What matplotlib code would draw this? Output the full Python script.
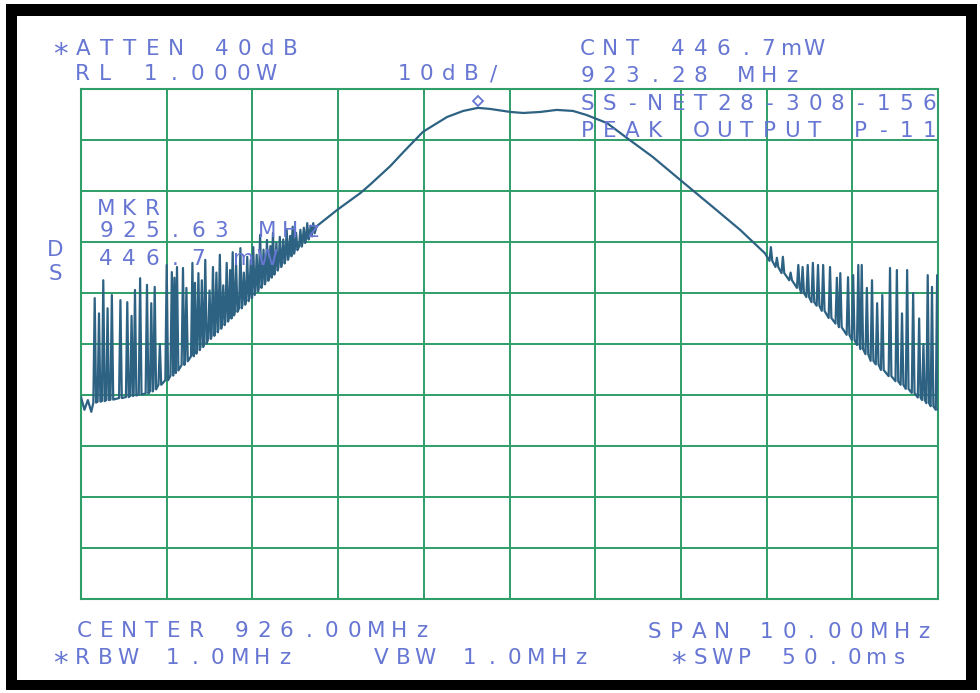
import numpy as np
import matplotlib

matplotlib.use("Agg")
import matplotlib.pyplot as plt
from matplotlib.patches import Rectangle
from matplotlib.transforms import ScaledTranslation

W, H = 980, 693

# ---- trace data (MHz / dBm): 10 dB/div, RL 1 W = 30 dBm ----
start_mhz = [921.00, 921.04, 921.08, 921.12]
start_dbm = [-30.4, -32.9, -31.0, -33.3]

# noise spikes on the lower skirt: position, top, floor under the spike
left_spike_mhz = [921.16, 921.21, 921.26, 921.31, 921.36, 921.46, 921.54, 921.59,
                  921.63, 921.69, 921.77, 921.82, 921.86, 921.92, 922.00, 922.06,
                  922.09, 922.12, 922.19, 922.23, 922.30, 922.33, 922.37, 922.41,
                  922.45, 922.50, 922.54, 922.58, 922.62, 922.66, 922.70, 922.74,
                  922.77, 922.81, 922.86, 922.90, 922.94, 922.98, 923.01, 923.05,
                  923.09, 923.13, 923.17, 923.21, 923.24, 923.28, 923.32, 923.36,
                  923.40, 923.44, 923.47, 923.51, 923.56, 923.60, 923.64, 923.68,
                  923.71]
left_spike_top = [-11.0, -14.0, -7.5, -13.0, -10.4, -11.4, -11.8, -14.5,
                  -9.4, -7.1, -8.4, -12.0, -8.8, -20.0, -4.5, -5.9,
                  -7.0, -4.9, -5.1, -9.0, -4.1, -8.0, -6.1, -7.5,
                  -3.5, -9.5, -4.9, -6.0, -2.5, -8.5, -4.1, -5.5,
                  -2.0, -4.5, -1.2, -6.0, -2.9, -3.5, -1.0, -2.5,
                  1.4, -1.5, 0.4, -0.8, 1.8, -0.2, 1.0, 0.5,
                  2.4, 1.2, 3.0, 1.8, 2.4, 2.8, 3.7, 3.2,
                  3.7]
left_spike_floor = [-31.5, -31.3, -31.2, -31.0, -30.9, -30.6, -30.4, -30.2,
                    -30.1, -29.9, -29.7, -29.3, -28.9, -28.0, -27.1, -26.2,
                    -25.7, -25.2, -24.1, -23.4, -22.4, -21.9, -21.2, -20.6,
                    -19.9, -19.0, -18.4, -17.7, -17.0, -16.3, -15.6, -15.0,
                    -14.4, -13.7, -13.0, -12.3, -11.6, -11.0, -10.4, -9.7,
                    -9.0, -8.3, -7.6, -7.0, -6.4, -5.6, -4.9, -4.2,
                    -3.5, -2.8, -2.3, -1.6, -0.9, -0.2, 0.5, 1.1,
                    1.7]

# passband of the filter
band_mhz = [923.75, 923.99, 924.26, 924.37, 924.61, 924.76, 924.99, 925.27,
            925.46, 925.63, 925.77, 926.01, 926.16, 926.36, 926.55, 926.74,
            926.90, 927.14, 927.37, 927.67, 927.99, 928.37, 928.69, 928.98]
band_dbm = [3.1, 6.3, 9.6, 11.2, 14.9, 17.6, 21.6, 24.5,
            25.7, 26.3, 26.1, 25.5, 25.3, 25.5, 25.9, 25.7,
            24.9, 23.3, 20.4, 16.7, 12.2, 6.9, 2.4, -2.2]

right_spike_mhz = [929.05, 929.12, 929.19, 929.28, 929.37, 929.42, 929.48, 929.54,
                   929.60, 929.66, 929.74, 929.82, 929.86, 929.95, 930.01, 930.07,
                   930.11, 930.17, 930.23, 930.29, 930.35, 930.44, 930.52, 930.58,
                   930.64, 930.71, 930.78, 930.83, 930.88, 930.93, 930.99]
right_spike_top = [-1.0, -3.1, -2.9, -6.0, -4.5, -4.9, -4.5, -4.1,
                   -4.5, -4.5, -4.9, -7.0, -6.1, -6.9, -6.5, -4.5,
                   -4.5, -9.0, -7.5, -12.0, -10.4, -5.1, -5.5, -14.0,
                   -5.5, -10.0, -15.0, -20.0, -6.5, -8.8, -6.5]
right_spike_floor = [-3.7, -4.9, -6.1, -7.5, -9.0, -10.0, -10.8, -11.8,
                     -12.5, -13.5, -14.9, -16.0, -16.7, -18.2, -19.2, -20.2,
                     -21.0, -22.0, -23.3, -24.0, -25.1, -26.3, -27.3, -28.0,
                     -28.8, -29.6, -30.5, -31.0, -31.6, -32.2, -32.9]
end_mhz = [931.00]
end_dbm = [-32.9]

marker_mhz = 925.63
marker_mw = 446.7

GREEN = "#2f9e68"
TRACE = "#2d6283"
INK = "#6676d2"


def spike_path(mhz, top, floor, half=0.016):
    xs, ys = [], []
    for f, t, b in zip(mhz, top, floor):
        xs += [f - half, f, f + half]
        ys += [b, t, b]
    return xs, ys


fig = plt.figure(figsize=(W / 100, H / 100), dpi=100)
fig.patch.set_facecolor("white")

# black photo frame
fig.patches.append(Rectangle((6 / W, 1 - 690 / H), 971 / W, 686 / H, transform=fig.transFigure,
                             facecolor="black", edgecolor="none", zorder=-2))
fig.patches.append(Rectangle((17 / W, 1 - 680 / H), 949 / W, 664 / H, transform=fig.transFigure,
                             facecolor="white", edgecolor="none", zorder=-1))

ax = fig.add_axes([81 / W, 1 - 599 / H, 857 / W, 510 / H])
ax.set_facecolor("none")
ax.set_xlim(921, 931)
ax.set_ylim(-70, 30)
ax.set_xticks(np.linspace(921, 931, 11))
ax.set_yticks(np.linspace(-70, 30, 11))
ax.tick_params(length=0, labelbottom=False, labelleft=False)
ax.grid(True, color=GREEN, linewidth=1.4)
for sp in ax.spines.values():
    sp.set_color(GREEN)
    sp.set_linewidth(1.5)

lx, ly = spike_path(left_spike_mhz, left_spike_top, left_spike_floor)
rx, ry = spike_path(right_spike_mhz, right_spike_top, right_spike_floor)
trace_x = np.concatenate([start_mhz, lx, band_mhz, rx, end_mhz])
trace_y = np.concatenate([start_dbm, ly, band_dbm, ry, end_dbm])
ax.plot(trace_x, trace_y, color=TRACE, linewidth=1.6, solid_joinstyle="round", zorder=3)

# marker diamond sits just above the trace
marker_dbm = 10 * np.log10(marker_mw)
lift = ScaledTranslation(0, 4 / 72, fig.dpi_scale_trans)
ax.plot([marker_mhz], [marker_dbm], marker="D", markersize=5.5, markerfacecolor="white",
        markeredgecolor=INK, markeredgewidth=1.3, transform=ax.transData + lift, zorder=4)


def plotter_text(x0, baseline, s, pitch=22.7):
    # fixed-pitch plotter lettering, one glyph per cell
    for i, ch in enumerate(s):
        if ch == " ":
            continue
        size, base = 15.5, baseline
        if ch == "*":
            size, base = 21, baseline + 8
        fig.text((x0 + i * pitch) / W, 1 - base / H, ch, ha="center", va="baseline",
                 fontsize=size, color=INK, family="DejaVu Sans", zorder=5)


plotter_text(60.5, 55, "*ATTEN 40dB", 23)
plotter_text(82, 80, "RL 1.000W", 23)
plotter_text(404, 80, "10dB/", 22.5)
plotter_text(587, 55, "CNT 446.7mW", 22.7)
plotter_text(587, 82, "923.28 MHz", 22.7)
plotter_text(587, 110, "SS-NET28-308-156", 22.8)
plotter_text(587, 137, "PEAK OUTPUT P-11", 22.8)
plotter_text(106, 215, "MKR", 23)
plotter_text(106, 237, "925.63 MHz", 23)
plotter_text(106, 265, "446.7 mW", 23)
plotter_text(55, 256, "D")
plotter_text(55, 280, "S")
plotter_text(84, 637, "CENTER 926.00MHz", 22.5)
plotter_text(654, 638, "SPAN 10.00MHz", 22.5)
plotter_text(60, 664, "*RBW 1.0MHz", 22.5)
plotter_text(381, 664, "VBW 1.0MHz", 22.2)
plotter_text(678, 664, "*SWP 50.0ms", 22.1)

fig.savefig("out.png", dpi=100)
